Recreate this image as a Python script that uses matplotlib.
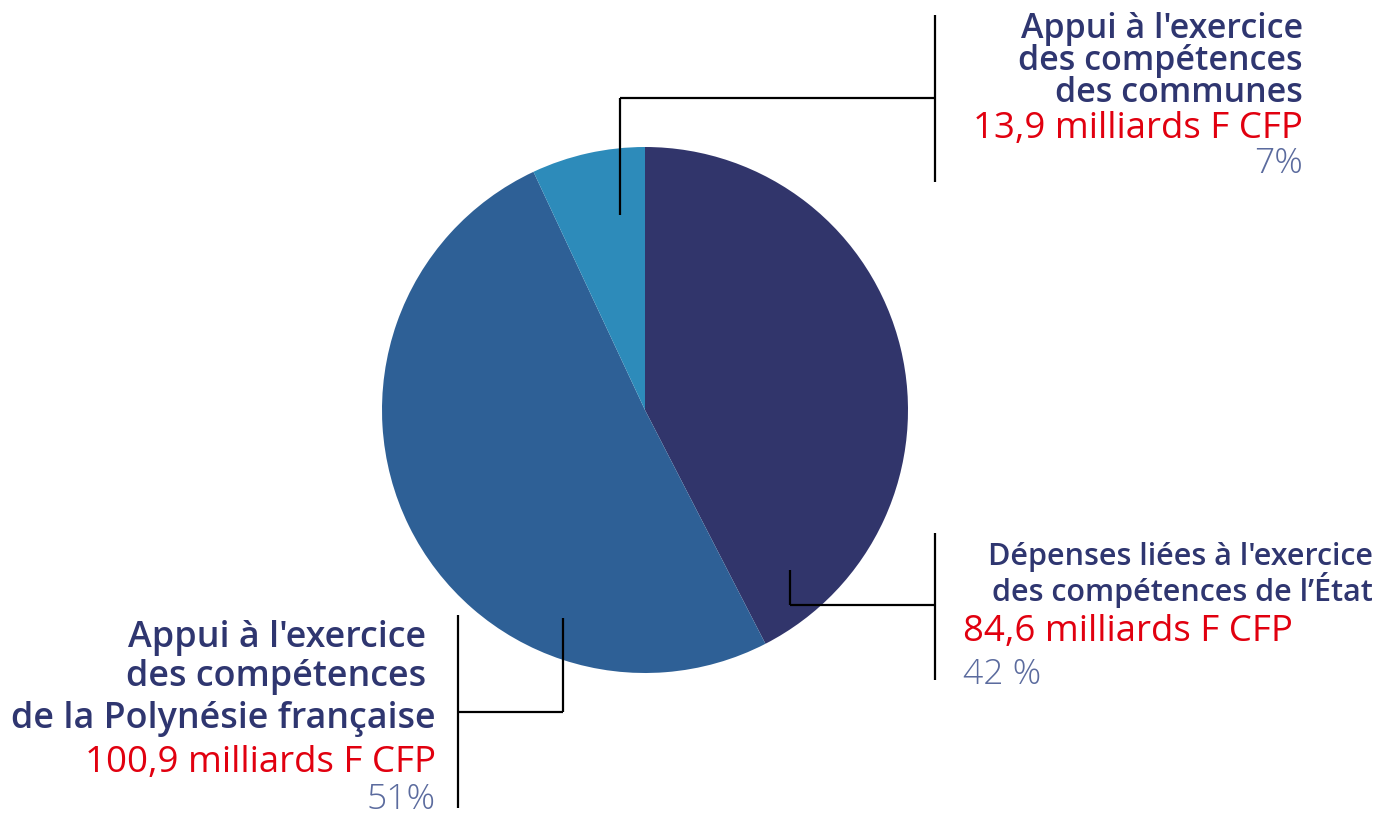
import matplotlib
matplotlib.use('Agg')
import matplotlib.pyplot as plt

# ---- data ----
categories = [
    "Dépenses liées à l'exercice\ndes compétences de l’État",
    "Appui à l'exercice \ndes compétences \nde la Polynésie française",
    "Appui à l'exercice\ndes compétences\ndes communes",
]
values = [84.6, 100.9, 13.9]
amounts = ["84,6 milliards F CFP", "100,9 milliards F CFP", "13,9 milliards F CFP"]
percents = ["42 %", "51%", "7%"]
colors = ['#31356B', '#2E6096', '#2D8BBA']

TITLE_C = '#2F3670'
RED_C = '#E1000F'
PCT_C = '#5B6B9E'
FONT = ['Open Sans', 'DejaVu Sans']

W, H = 1378, 815
fig = plt.figure(figsize=(W / 100, H / 100), dpi=100)
ax = fig.add_axes([0, 0, 1, 1])
ax.set_xlim(0, W)
ax.set_ylim(0, H)
ax.set_aspect('equal')
ax.axis('off')


def Y(p):
    return H - p


ax.pie(values, colors=colors, startangle=90, counterclock=False,
       center=(645, Y(410)), radius=263, frame=True,
       wedgeprops=dict(linewidth=0))
ax.set_xlim(0, W)
ax.set_ylim(0, H)
ax.axis('off')


def line(xs, ys):
    ax.plot(xs, [Y(v) for v in ys], color='black', lw=1.6, solid_capstyle='butt',
            solid_joinstyle='miter')


# leader lines
line([935, 935], [15, 182])
line([620, 935, ], [98, 98])
line([620, 620], [98, 215])

line([935, 935], [533, 680])
line([790, 935], [605, 605])
line([790, 790], [570, 605])

line([458, 458], [615, 808])
line([458, 563], [712, 712])
line([563, 563], [618, 712])


def txt(x, y, s, size, color, weight, ha):
    ax.text(x, Y(y), s, fontsize=size, color=color, fontweight=weight,
            ha=ha, va='baseline', family=FONT)


RED_S = 26.4
PCT_S = 25.5

# top right block (communes)
t = categories[2].split('\n')
for s, b in zip(t, [38, 70, 102]):
    txt(1303, b, s, 24.5, TITLE_C, 'semibold', 'right')
txt(1303, 138, amounts[2], RED_S, RED_C, 'normal', 'right')
txt(1303, 173, percents[2], PCT_S, PCT_C, 'light', 'right')

# bottom right block (Etat)
t = categories[0].split('\n')
for s, b in zip(t, [565, 601]):
    txt(1373, b, s, 22, TITLE_C, 'semibold', 'right')
txt(963, 641, amounts[0], RED_S, RED_C, 'normal', 'left')
txt(963, 684, percents[0], PCT_S, PCT_C, 'light', 'left')

# bottom left block (Polynesie)
t = categories[1].split('\n')
for s, b in zip(t, [647, 686, 728]):
    txt(436, b, s, 25.8, TITLE_C, 'semibold', 'right')
txt(436, 772, amounts[1], RED_S, RED_C, 'normal', 'right')
txt(436, 809, percents[1], PCT_S, PCT_C, 'light', 'right')

fig.savefig('out.png', dpi=100, facecolor='white')
